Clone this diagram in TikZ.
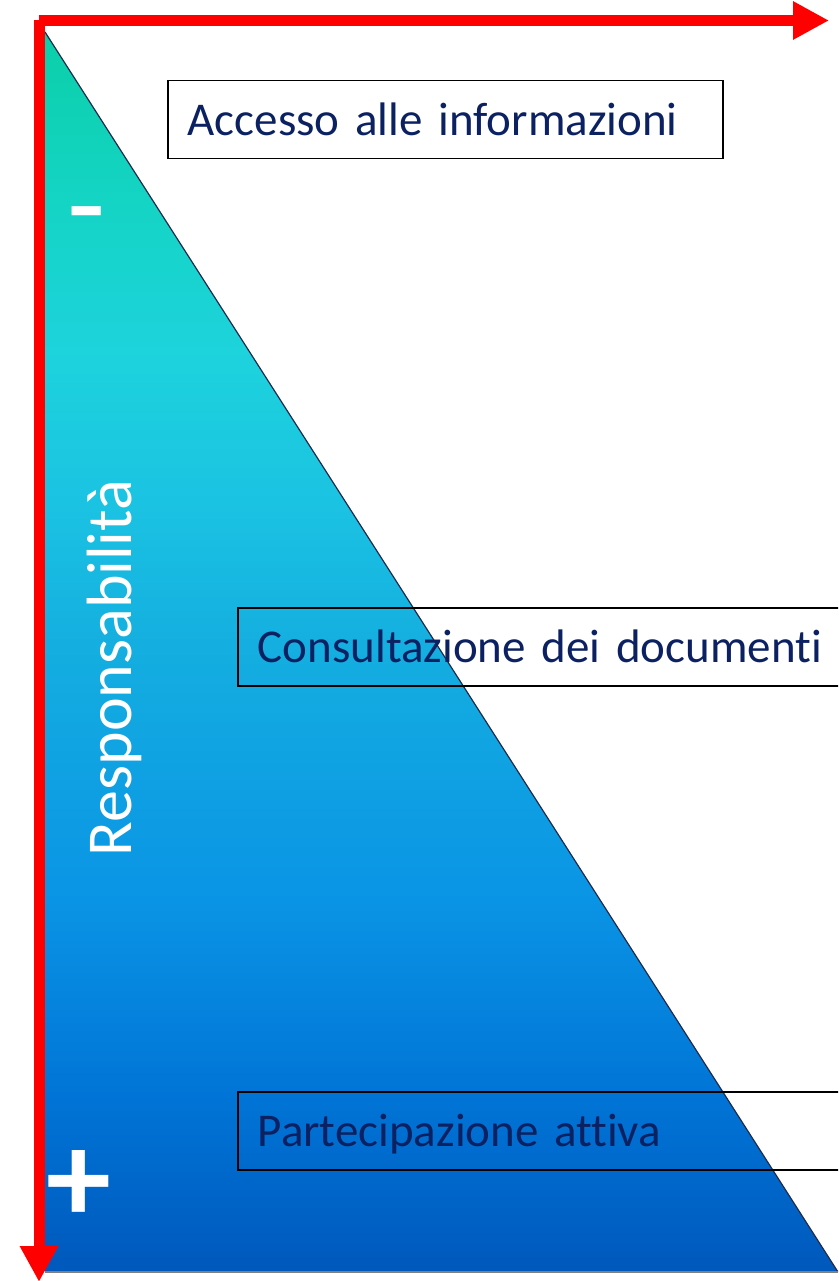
\documentclass[tikz,border=0pt]{standalone}
\usepackage{fontspec}
\setmainfont{Carlito}[Ligatures=NoCommon]
\usetikzlibrary{arrows.meta}
\usetikzlibrary{positioning}
\definecolor{testo}{HTML}{0B2161}
\definecolor{rosso}{HTML}{FF0000}
\definecolor{bordo}{HTML}{1F2B4E}
\definecolor{sfA}{HTML}{0BCFA9}
\definecolor{sfB}{HTML}{14D4C4}
\definecolor{sfC}{HTML}{1DD3DC}
\definecolor{sfD}{HTML}{1BC3E2}
\definecolor{sfE}{HTML}{14AEE0}
\definecolor{sfF}{HTML}{0A94E5}
\definecolor{sfG}{HTML}{0074D6}
\definecolor{sfH}{HTML}{0058BC}
\pgfdeclareverticalshading{triangolo}{100bp}{color(0bp)=(sfH); color(25bp)=(sfH);
  color(31.9bp)=(sfG); color(40bp)=(sfF); color(50.1bp)=(sfE); color(56.1bp)=(sfD);
  color(62.2bp)=(sfC); color(68.2bp)=(sfB); color(75bp)=(sfA); color(100bp)=(sfA)}
\newcommand\grande[1]{\fontsize{#1}{1.2\dimexpr#1pt\relax}\selectfont}

\begin{document}
\begin{tikzpicture}[x=1pt, y=-1pt,
    casella/.style={draw=black, line width=1.5pt, anchor=north west, minimum height=78pt,
      inner xsep=20pt, align=left, text height=32pt, text depth=0pt,
      font=\grande{47}, text=testo},
    asse/.style={rosso, line width=11pt, -{Triangle[length=36pt,width=36pt]}},
    segno/.style={text=white, inner sep=0pt, anchor=base, font=\bfseries\grande{130}}]
  \path[use as bounding box, clip] (0,0) rectangle (838,1281);

  % triangolo sfumato
  \coordinate (alto) at (45,32);
  \coordinate (basso) at (45,1272);
  \coordinate (destra) at (838,1272);
  \shade[shading=triangolo] (alto) -- (basso) -- (destra) -- cycle;
  \draw[bordo, line width=1.2pt] (alto) -- (destra);
  \draw[gray, line width=1.2pt] (basso) -- (destra);

  % caselle
  \node[casella, text width=515pt] (accesso) at (167,80) {Accesso alle informazioni};
  \node[casella, text width=640pt] (consultazione) at (237,607) {Consultazione dei documenti};
  \node[casella, text width=640pt] (partecipazione) at (237,1091) {Partecipazione attiva};

  % assi
  \coordinate (origine) at (39,20.5);
  \coordinate (xfine) at (829,20.5);
  \coordinate (yfine) at (39,1282);
  \draw[asse] (origine) -- (xfine);
  \draw[asse] (origine) -- (yfine);

  % etichette
  \node[text=white, rotate=90, anchor=base, inner sep=0pt, font=\grande{64}] (resp) at (131,668) {Responsabilità};
  \node[segno, font=\mdseries\grande{125}] (meno) at (86.5,247) {-};
  \node[segno] (piu) at (78.5,1222) {+};
\end{tikzpicture}
\end{document}
